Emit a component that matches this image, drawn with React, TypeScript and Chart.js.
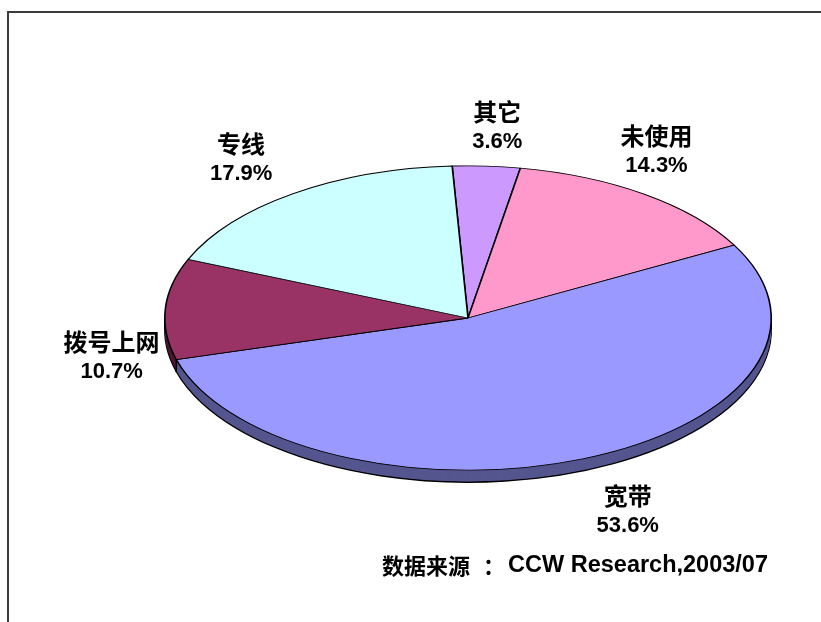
import React, { useEffect, useRef } from "react";
import { Chart, registerables } from "chart.js";

Chart.register(...registerables);

// ---- data ----
const categories = ["其它", "未使用", "宽带", "拨号上网", "专线"];
const shares = [3.6, 14.3, 53.6, 10.7, 17.9];
const topColors = ["#CC99FF", "#FF99CC", "#9999FF", "#993366", "#CCFFFF"];
const sideColors = ["#66508a", "#8a5070", "#55558f", "#4a1830", "#668a8a"];
const labelNudge = [
  [6, 2],
  [-36, -10],
  [14, 2],
  [28, 50],
  [-5, -1],
];
const sourcePrefix = "数据来源";
const sourceColon = "：";
const sourceText = "CCW Research,2003/07";

// ---- layout ----
const W = 821;
const H = 622;
const SQUASH = 0.502;
const DEPTH = 12;
const LABEL_FACTOR = 1.27;
const NAME_FONT = 'bold 24px "Noto Sans CJK SC", "Liberation Sans", sans-serif';
const PCT_FONT = 'bold 22px "Liberation Sans", "Noto Sans CJK SC", sans-serif';
const SRC_CJK_FONT = 'bold 22px "Noto Sans CJK SC", sans-serif';
const SRC_FONT = 'bold 23.5px "Liberation Sans", sans-serif';

const pie3d = {
  id: "pie3d",
  beforeDatasetsDraw(chart: any) {
    const ctx = chart.ctx as CanvasRenderingContext2D;
    const arcs = chart.getDatasetMeta(0).data as any[];
    if (!arcs.length) return;
    const cx = arcs[0].x;
    const cy = arcs[0].y;
    const r = arcs[0].outerRadius;
    const sector = (a: any) => {
      ctx.beginPath();
      ctx.moveTo(a.x, a.y);
      ctx.arc(a.x, a.y, a.outerRadius, a.startAngle, a.endAngle);
      ctx.closePath();
    };
    // side walls built from stacked layers
    for (let d = DEPTH; d >= 1; d--) {
      arcs.forEach((a, i) => {
        ctx.save();
        ctx.translate(cx, cy + d);
        ctx.scale(1, SQUASH);
        ctx.translate(-cx, -cy);
        sector(a);
        ctx.restore();
        ctx.fillStyle = sideColors[i];
        ctx.fill();
        if (d === DEPTH) {
          ctx.strokeStyle = "#000";
          ctx.lineWidth = 1.4;
          ctx.stroke();
        }
      });
    }
    // vertical edges on the visible front
    ctx.strokeStyle = "#000";
    ctx.lineWidth = 1.2;
    const edgeAngles: number[] = [0, Math.PI];
    arcs.forEach((a) => edgeAngles.push(a.startAngle));
    edgeAngles.forEach((ang) => {
      const s = Math.sin(ang);
      if (s < -1e-6) return;
      const x = cx + r * Math.cos(ang);
      const y = cy + r * SQUASH * s;
      ctx.beginPath();
      ctx.moveTo(x, y);
      ctx.lineTo(x, y + DEPTH);
      ctx.stroke();
    });
    // squash the top surface drawn by Chart.js
    ctx.save();
    ctx.translate(cx, cy);
    ctx.scale(1, SQUASH);
    ctx.translate(-cx, -cy);
  },
  afterDatasetsDraw(chart: any) {
    const ctx = chart.ctx as CanvasRenderingContext2D;
    ctx.restore();
    const arcs = chart.getDatasetMeta(0).data as any[];
    if (!arcs.length) return;
    ctx.save();
    ctx.fillStyle = "#000";
    ctx.textAlign = "center";
    ctx.textBaseline = "middle";
    arcs.forEach((a, i) => {
      const mid = (a.startAngle + a.endAngle) / 2;
      const s = Math.sin(mid);
      const x = a.x + a.outerRadius * LABEL_FACTOR * Math.cos(mid) + labelNudge[i][0];
      const y =
        a.y +
        a.outerRadius * SQUASH * LABEL_FACTOR * s +
        (s > 0 ? DEPTH : 0) +
        labelNudge[i][1];
      ctx.font = NAME_FONT;
      ctx.fillText(categories[i], x, y - 15);
      ctx.font = PCT_FONT;
      ctx.fillText(shares[i].toFixed(1) + "%", x, y + 15);
    });
    // source note, anchored to the chart area's lower right
    const right = chart.chartArea.right - 4;
    const baseY = chart.chartArea.bottom - 56;
    ctx.font = SRC_FONT;
    ctx.textAlign = "right";
    ctx.fillText(sourceText, right, baseY);
    const latinStart = right - ctx.measureText(sourceText).width;
    ctx.font = SRC_CJK_FONT;
    ctx.textAlign = "center";
    ctx.fillText(sourceColon, latinStart - 14, baseY);
    ctx.textAlign = "right";
    ctx.fillText(sourcePrefix, latinStart - 38, baseY);
    ctx.restore();
  },
};

export default function App() {
  const ref = useRef<HTMLCanvasElement>(null);
  useEffect(() => {
    if (!ref.current) return;
    const chart = new Chart(ref.current, {
      type: "pie",
      data: {
        labels: categories,
        datasets: [
          {
            data: shares,
            backgroundColor: topColors,
            borderColor: "#000",
            borderWidth: 1.6,
          },
        ],
      },
      options: {
        responsive: false,
        animation: false,
        devicePixelRatio: 1,
        events: [],
        rotation: -3,
        layout: { padding: { left: 164, right: 49, top: 14, bottom: 0 } },
        plugins: {
          legend: { display: false },
          tooltip: { enabled: false },
        },
      },
      plugins: [pie3d],
    });
    return () => chart.destroy();
  }, []);
  return (
    <div style={{ position: "absolute", left: 0, top: 0, width: W, height: H, background: "#fff" }}>
      <canvas ref={ref} width={W} height={H} style={{ position: "absolute", left: 0, top: 0 }} />
      <div
        style={{
          position: "absolute",
          left: 7,
          top: 11,
          width: W - 9,
          height: H - 11,
          borderTop: "2px solid #3c3c3c",
          borderLeft: "2px solid #3c3c3c",
          pointerEvents: "none",
        }}
      />
    </div>
  );
}
